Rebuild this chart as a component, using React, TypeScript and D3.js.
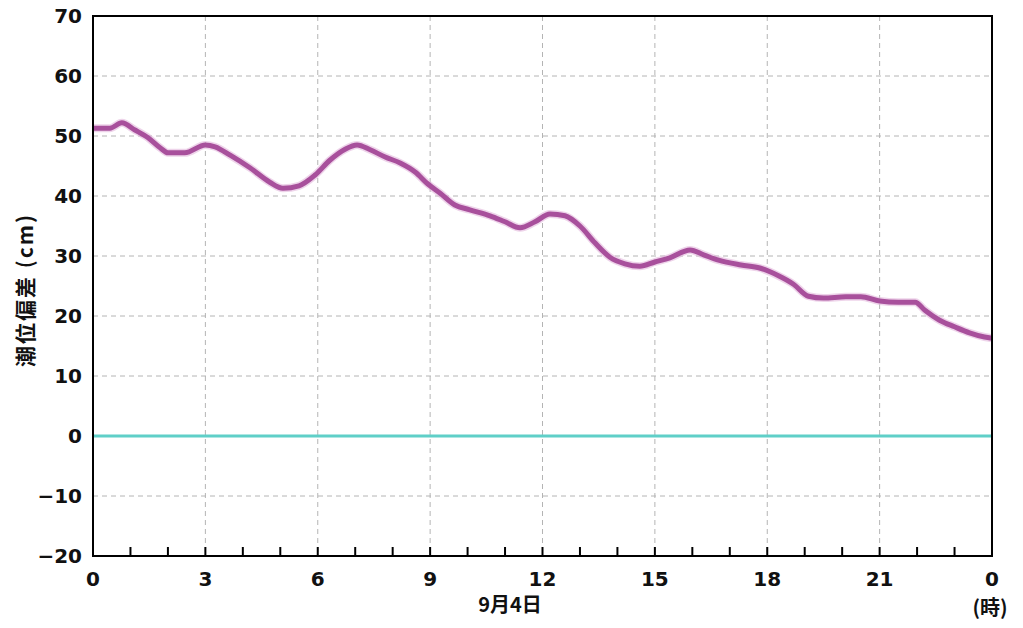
import React from "react";
import * as d3 from "d3";

const hours = [0, 0.45, 0.77, 1.12, 1.47, 1.8, 2.0, 2.45, 3.0, 3.26, 3.66, 4.19, 4.72, 5.07, 5.5, 5.93, 6.33, 6.73, 7.05, 7.4, 7.8, 8.2, 8.6, 8.94, 9.26, 9.66, 10.06, 10.6, 11.0, 11.4, 11.8, 12.2, 12.6, 13.0, 13.4, 13.8, 14.2, 14.6, 15.0, 15.4, 15.94, 16.3, 16.7, 17.3, 17.8, 18.3, 18.7, 19.1, 19.5, 20.1, 20.5, 21.0, 21.5, 21.95, 22.2, 22.6, 23.0, 23.4, 23.8, 24];
const deviation = [51.3, 51.3, 52.2, 51.0, 49.7, 48.0, 47.2, 47.2, 48.5, 48.2, 46.8, 44.7, 42.3, 41.3, 41.7, 43.5, 46.0, 47.8, 48.5, 47.7, 46.5, 45.5, 44.0, 42.0, 40.5, 38.5, 37.7, 36.7, 35.7, 34.7, 35.7, 37.0, 36.7, 35.0, 32.2, 29.8, 28.7, 28.3, 29.0, 29.7, 31.0, 30.2, 29.3, 28.5, 28.0, 26.7, 25.3, 23.3, 23.0, 23.2, 23.2, 22.5, 22.3, 22.3, 21.0, 19.3, 18.2, 17.2, 16.5, 16.3];
const yTicks = [-20, -10, 0, 10, 20, 30, 40, 50, 60, 70];
const xTickValues = [0, 3, 6, 9, 12, 15, 18, 21, 24];
const xTickLabels = ["0", "3", "6", "9", "12", "15", "18", "21", "0"];
const dateLabel = "9月4日";
const unitLabel = "(時)";
const yTitle = "潮位偏差 (cm)";

export default function App() {
  const W = 1023, H = 628;
  const L = 93, R = 992, T = 16, B = 556;
  const x = d3.scaleLinear().domain([0, 24]).range([L, R]);
  const y = d3.scaleLinear().domain([-20, 70]).range([B, T]);
  const line = d3.line<number>().x((_, i) => x(hours[i])).y((d) => y(d)).curve(d3.curveMonotoneX);
  const minor = d3.range(0, 25);
  const font = "'DejaVu Sans', Verdana, sans-serif";
  const cjk = "'Noto Sans CJK JP', sans-serif";
  return (
    <svg width={W} height={H} style={{ position: "absolute", left: 0, top: 0, background: "#fff" }}>
      {yTicks.filter((t) => t !== -20 && t !== 70 && t !== 0).map((t) => (
        <line key={"gy" + t} x1={L} x2={R} y1={y(t)} y2={y(t)} stroke="#b4b4b4" strokeWidth={1} strokeDasharray="5,4" />
      ))}
      {xTickValues.filter((t) => t !== 0 && t !== 24).map((t) => (
        <line key={"gx" + t} x1={x(t)} x2={x(t)} y1={T} y2={B} stroke="#b4b4b4" strokeWidth={1} strokeDasharray="5,4" />
      ))}
      <line x1={L} x2={R} y1={y(0)} y2={y(0)} stroke="#5fcfc8" strokeWidth={3} />
      <path d={line(deviation) || ""} fill="none" stroke="#e3b8dc" strokeWidth={8} strokeLinejoin="round" opacity={0.6} />
      <path d={line(deviation) || ""} fill="none" stroke="#a8509c" strokeWidth={5} strokeLinejoin="round" />
      <rect x={L} y={T} width={R - L} height={B - T} fill="none" stroke="#000" strokeWidth={2} />
      {minor.map((h) => (
        <line key={"mt" + h} x1={x(h)} x2={x(h)} y1={B} y2={B - 9} stroke="#000" strokeWidth={2} />
      ))}
      {yTicks.map((t) => (
        <text key={"yl" + t} x={L - 11} y={y(t)} dy="0.36em" textAnchor="end" fontFamily={font} fontWeight="bold" fontSize={20} fill="#111">
          {t < 0 ? "\u2212" + Math.abs(t) : t}
        </text>
      ))}
      {xTickValues.map((t, i) => (
        <text key={"xl" + t} x={x(t)} y={586} textAnchor="middle" fontFamily={font} fontWeight="bold" fontSize={20} fill="#111">
          {xTickLabels[i]}
        </text>
      ))}
      <text x={510} y={612} textAnchor="middle" fontFamily={cjk} fontWeight="bold" fontSize={20} fill="#111">
        {dateLabel}
      </text>
      <text x={990} y={615} textAnchor="middle" fontFamily={cjk} fontWeight="bold" fontSize={20} fill="#111">
        {unitLabel}
      </text>
      <text transform={`translate(33,290) rotate(-90)`} textAnchor="middle" fontFamily={cjk} fontWeight="bold" fontSize={21} letterSpacing={2} fill="#111">
        {yTitle}
      </text>
    </svg>
  );
}
